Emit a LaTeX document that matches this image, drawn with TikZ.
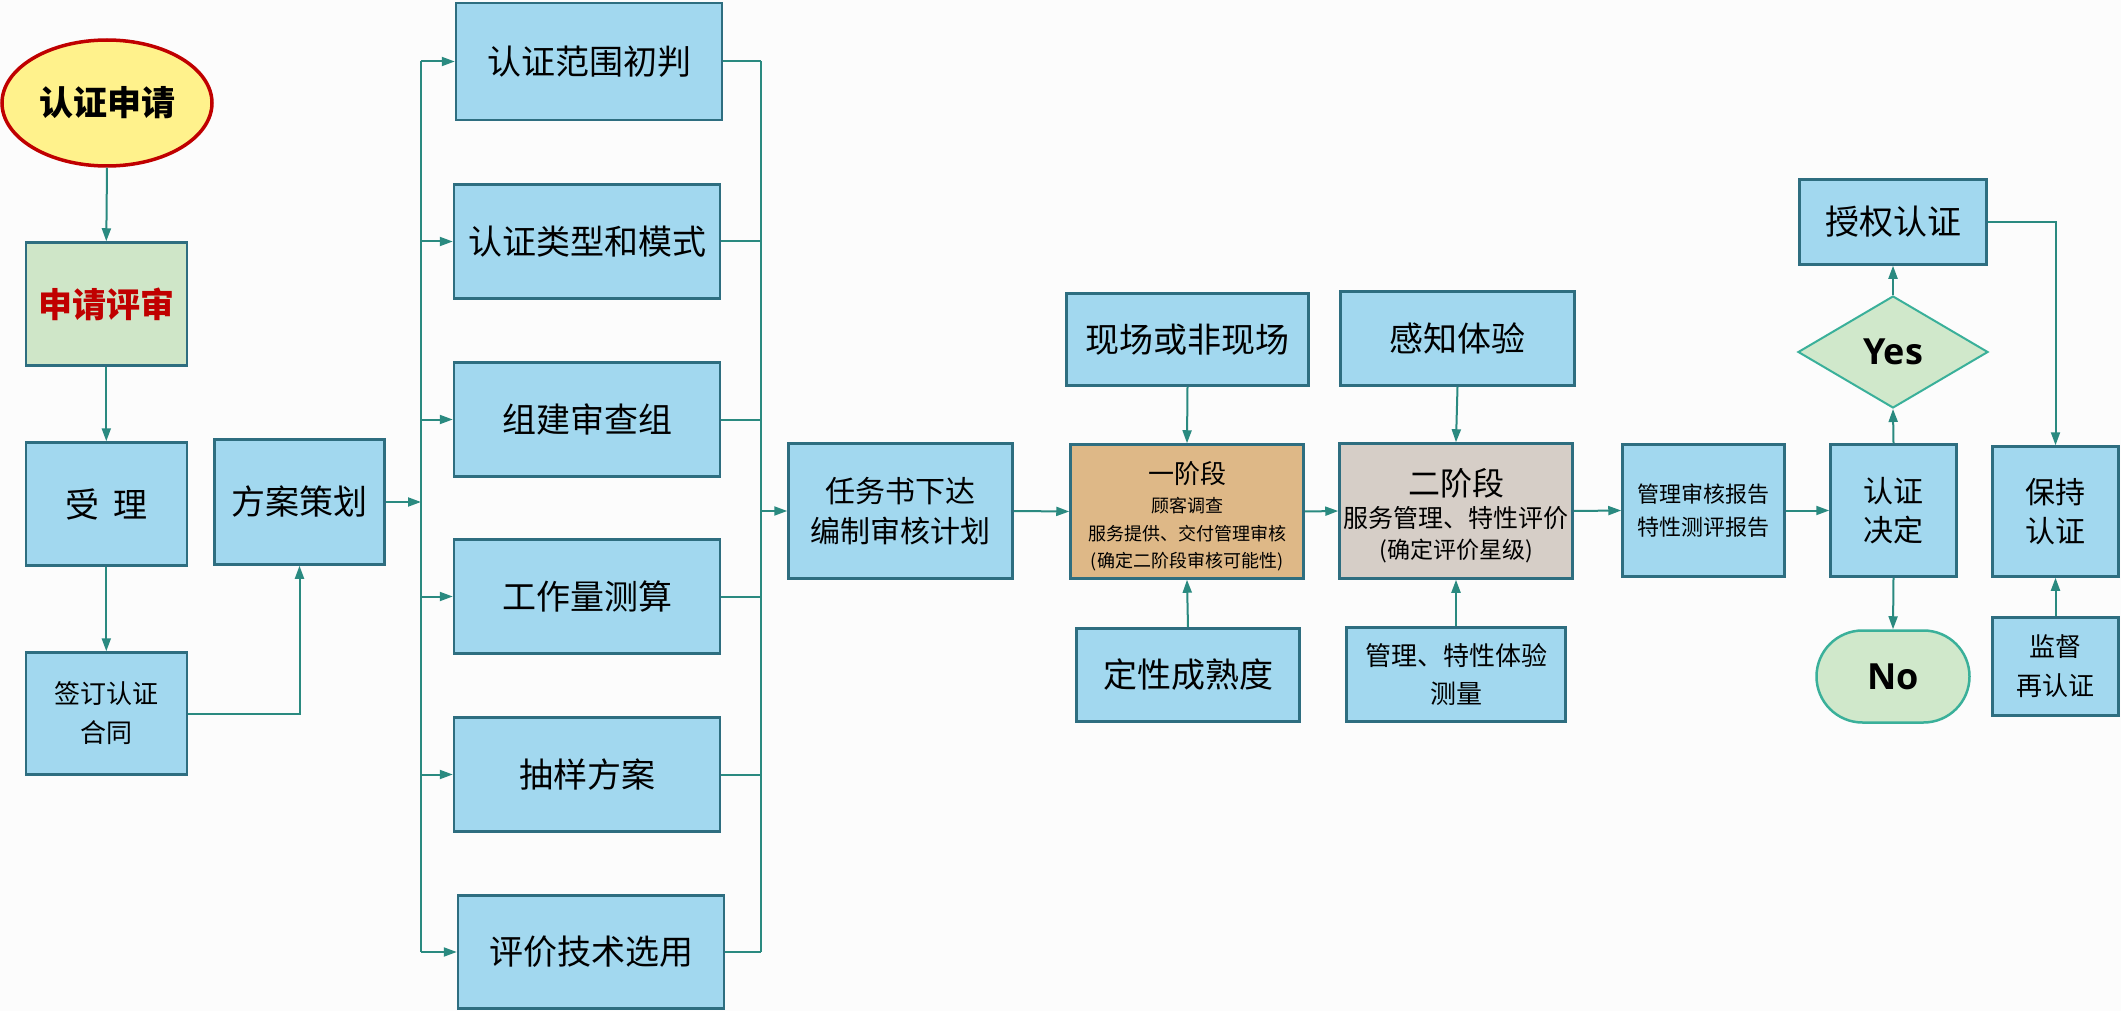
\documentclass[tikz,border=0pt]{standalone}
\usepackage{fontspec}
\setmainfont{Noto Sans CJK SC}
\newfontfamily\latinfont{Open Sans}
\usetikzlibrary{shapes.geometric,arrows.meta}
\definecolor{bgc}{HTML}{FCFCFC}
\definecolor{boxblue}{HTML}{A2D8EF}
\definecolor{boxline}{HTML}{2E6E80}
\definecolor{arrc}{HTML}{2A8A80}
\definecolor{revgreen}{HTML}{CFE6C8}
\definecolor{yelc}{HTML}{FFF28C}
\definecolor{redc}{HTML}{C00000}
\definecolor{stageone}{HTML}{DEB887}
\definecolor{stagetwo}{HTML}{D6CEC7}
\definecolor{decgreen}{HTML}{D0E8CB}
\definecolor{decline}{HTML}{3AB09A}
\begin{document}
\begin{tikzpicture}[x=1pt,y=-1pt,
  box/.style={draw=boxline, line width=2.5pt, fill=boxblue, inner sep=0pt, align=center, text=black},
  big/.style={font=\fontsize{34}{40}\selectfont},
  conn/.style={draw=arrc, line width=2pt, -{Triangle[length=13pt,width=9pt]}},
  plain/.style={draw=arrc, line width=2pt},
  txt/.style={inner sep=0pt, align=center, text=black}
]
\fill[bgc] (0,0) rectangle (2121,1011);
\useasboundingbox (0,0) rectangle (2121,1011);

% left column
\node[ellipse, draw=redc, line width=3.5pt, fill=yelc, minimum width=210pt, minimum height=126pt, inner sep=0pt,
      font=\fontsize{34}{40}\selectfont\bfseries] (app) at (107,103) {认证申请};
\node[box, fill=revgreen, minimum width=161pt, minimum height=123pt, text=redc,
      font=\fontsize{34}{40}\selectfont\bfseries] (review) at (106.3,304) {申请评审};
\node[box, big, minimum width=161pt, minimum height=123pt] (accept) at (106.3,504) {受\hspace{14pt}理};
\node[box, minimum width=161pt, minimum height=122pt, font=\fontsize{26}{39}\selectfont] (sign) at (106.3,713.5) {签订认证\\合同};
\node[box, big, minimum width=170pt, minimum height=125pt] (plan) at (299.5,502) {方案策划};

% middle column
\node[box, big, minimum width=266pt, minimum height=117pt] (b1) at (589,61.5) {认证范围初判};
\node[box, big, minimum width=266pt, minimum height=114pt] (b2) at (587,241.5) {认证类型和模式};
\node[box, big, minimum width=266pt, minimum height=114pt] (b3) at (587,419.5) {组建审查组};
\node[box, big, minimum width=266pt, minimum height=114pt] (b4) at (587,596.5) {工作量测算};
\node[box, big, minimum width=266pt, minimum height=114pt] (b5) at (587,774.5) {抽样方案};
\node[box, big, minimum width=266pt, minimum height=113pt] (b6) at (591,952) {评价技术选用};

\coordinate (busLtop) at (421,61.5);
\coordinate (busLbot) at (421,952);
\coordinate (busRtop) at (761,61.5);
\coordinate (busRbot) at (761,952);

% task and stages
\node[box, minimum width=224pt, minimum height=135pt, font=\fontsize{30}{40}\selectfont] (task) at (900.5,511) {任务书下达\\编制审核计划};
\node[box, fill=stageone, minimum width=233pt, minimum height=134pt] (s1) at (1187,511.5) {};
\node[txt, font=\fontsize{26}{30}\selectfont] (s1a) at (1187,474) {一阶段};
\node[txt, font=\fontsize{18}{22}\selectfont] (s1b) at (1187,506) {顾客调查};
\node[txt, font=\fontsize{18}{22}\selectfont] (s1c) at (1187,534) {服务提供、交付管理审核};
\node[txt, font=\fontsize{18}{22}\selectfont] (s1d) at (1187,562) {(确定二阶段审核可能性)};
\node[box, big, minimum width=242pt, minimum height=92pt] (onsite) at (1187.5,339.5) {现场或非现场};
\node[box, big, minimum width=223pt, minimum height=93pt] (qual) at (1188,675) {定性成熟度};

\node[box, fill=stagetwo, minimum width=233pt, minimum height=135pt] (s2) at (1456,511) {};
\node[txt, font=\fontsize{32}{36}\selectfont] (s2a) at (1456,483) {二阶段};
\node[txt, font=\fontsize{25}{30}\selectfont] (s2b) at (1456,518) {服务管理、特性评价};
\node[txt, font=\fontsize{23}{28}\selectfont] (s2c) at (1456,551) {(确定评价星级)};
\node[box, big, minimum width=234pt, minimum height=94pt] (perc) at (1457.5,338.5) {感知体验};
\node[box, minimum width=219pt, minimum height=94pt, font=\fontsize{26}{38}\selectfont] (meas) at (1456,674.5) {管理、特性体验\\测量};

% right part
\node[box, minimum width=162pt, minimum height=132pt, font=\fontsize{22}{32.5}\selectfont] (report) at (1703.5,510.5) {管理审核报告\\特性测评报告};
\node[box, minimum width=126pt, minimum height=132pt, font=\fontsize{30}{39}\selectfont] (dec) at (1893.5,510.5) {认证\\决定};
\node[diamond, draw=decline, line width=2pt, fill=decgreen, minimum width=190pt, minimum height=112pt, inner sep=0pt,
      font=\latinfont\fontsize{36}{40}\selectfont\bfseries] (yes) at (1893,352) {Yes};
\node[box, big, minimum width=187pt, minimum height=85pt] (auth) at (1893,222) {授权认证};
\node[draw=decline, line width=2.5pt, fill=decgreen, rounded corners=46pt, minimum width=153pt, minimum height=92pt, inner sep=0pt,
      font=\latinfont\fontsize{36}{40}\selectfont\bfseries] (no) at (1893,676.5) {No};
\node[box, minimum width=126pt, minimum height=130pt, font=\fontsize{30}{39}\selectfont] (keep) at (2055.5,511.5) {保持\\认证};
\node[box, minimum width=126pt, minimum height=98pt, font=\fontsize{26}{39}\selectfont] (sup) at (2055.5,666.5) {监督\\再认证};

% connectors left
\draw[conn] (app.south) -- (review.north);
\draw[conn] (review.south) -- (accept.north);
\draw[conn] (accept.south) -- (sign.north);
\draw[conn] (sign.east) -| (plan.south);
\draw[conn] (plan.east) -- (plan.east -| busLtop);
\draw[plain] (busLtop) -- (busLbot);
\foreach \b in {b1,b2,b3,b4,b5,b6}{
  \draw[conn] (\b.west -| busLtop) -- (\b.west);
  \draw[plain] (\b.east) -- (\b.east -| busRtop);
}
\draw[plain] (busRtop) -- (busRbot);
\draw[conn] (task.west -| busRtop) -- (task.west);

% middle connectors
\draw[conn] (task.east) -- (s1.west);
\draw[conn] (onsite.south) -- (s1.north);
\draw[conn] (qual.north) -- (s1.south);
\draw[conn] (s1.east) -- (s2.west);
\draw[conn] (perc.south) -- (s2.north);
\draw[conn] (meas.north) -- (s2.south);
\draw[conn] (s2.east) -- (report.west);
\draw[conn] (report.east) -- (dec.west);

% right connectors
\draw[conn] (dec.north) -- (yes.south);
\draw[conn] (yes.north) -- (auth.south);
\draw[conn] (dec.south) -- (no.north);
\draw[conn] (auth.east) -| (keep.north);
\draw[conn] (sup.north) -- (keep.south);
\end{tikzpicture}
\end{document}
